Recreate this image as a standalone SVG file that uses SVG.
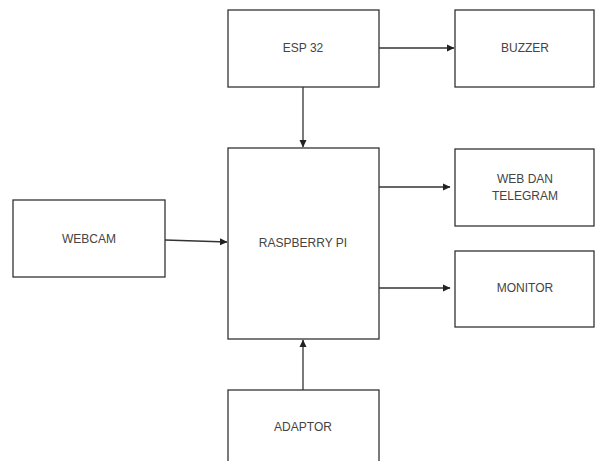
<svg xmlns="http://www.w3.org/2000/svg" width="595" height="461" viewBox="0 0 595 461">
<style>
.box{fill:#fff;stroke:#333;stroke-width:1.3}
.lbl{font-family:"Liberation Sans",Arial,sans-serif;font-size:12px;fill:#444;text-anchor:middle;dominant-baseline:central}
.con{stroke:#333;stroke-width:1.3;fill:none;marker-end:url(#ah)}
</style>
<defs>
<marker id="ah" markerWidth="8" markerHeight="8" refX="7" refY="4" orient="auto" markerUnits="userSpaceOnUse">
<path d="M0,0.5 L7.5,4 L0,7.5 Z" fill="#222"/>
</marker>
</defs>
<rect width="595" height="461" fill="#fff"/>
<g id="connectors">
<line class="con" x1="379" y1="48" x2="454" y2="48"/>
<line class="con" x1="303" y1="87" x2="303" y2="147"/>
<line class="con" x1="165" y1="240" x2="227" y2="242"/>
<line class="con" x1="379" y1="187" x2="450" y2="187"/>
<line class="con" x1="379" y1="288" x2="450" y2="288"/>
<line class="con" x1="303" y1="390" x2="303" y2="340"/>
</g>
<g id="esp32"><rect class="box" x="228" y="10" width="151" height="77"/><text class="lbl" x="303" y="48">ESP 32</text></g>
<g id="buzzer"><rect class="box" x="455" y="10" width="139" height="77"/><text class="lbl" x="525" y="48">BUZZER</text></g>
<g id="raspberry"><rect class="box" x="228" y="148" width="151" height="191"/><text class="lbl" x="303" y="243">RASPBERRY PI</text></g>
<g id="webcam"><rect class="box" x="13" y="200" width="152" height="77"/><text class="lbl" x="89" y="239">WEBCAM</text></g>
<g id="webtelegram"><rect class="box" x="455" y="149" width="139" height="77"/><text class="lbl" x="525" y="179">WEB DAN</text><text class="lbl" x="525" y="196">TELEGRAM</text></g>
<g id="monitor"><rect class="box" x="455" y="251" width="139" height="76"/><text class="lbl" x="525" y="288">MONITOR</text></g>
<g id="adaptor"><rect class="box" x="228" y="390" width="151" height="80"/><text class="lbl" x="303" y="427">ADAPTOR</text></g>
</svg>
